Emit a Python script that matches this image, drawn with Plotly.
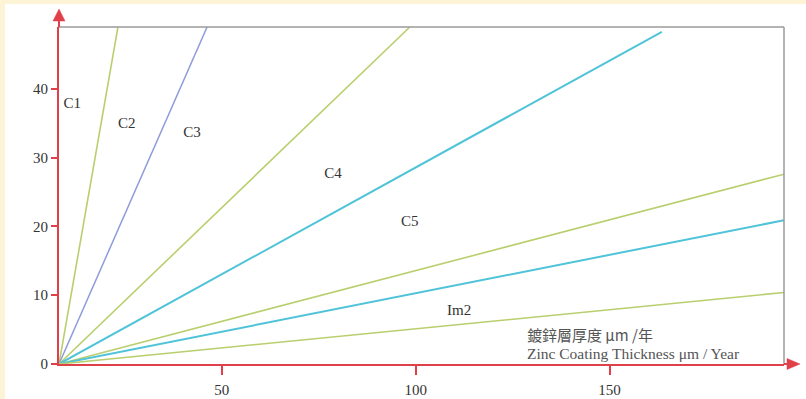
import plotly.graph_objects as go

# ---- data ----
origin = (8.0, 0.0)                     # common start of every line (axis corner)
line_names = ["C1", "C2", "C3", "C4", "C5", "CX", "Im2"]
end_x = [23.2, 46.2, 98.5, 163.5, 195.0, 195.0, 195.0]
end_y = [49.0, 49.0, 49.0, 48.3, 27.6, 20.9, 10.4]
line_colors = ["#b9cf6e", "#8f9bd9", "#b9cf6e", "#4fc3d8", "#b9cf6e", "#4fc3d8", "#b9cf6e"]
line_widths = [1.6, 1.5, 1.6, 2.0, 1.6, 2.0, 1.6]

label_text = ["C1", "C2", "C3", "C4", "C5", "Im2"]
label_x = [11.4, 25.5, 42.3, 78.7, 98.5, 111.2]
label_y = [37.8, 34.8, 33.5, 27.6, 20.6, 7.6]

x_ticks = [50, 100, 150]
y_ticks = [0, 10, 20, 30, 40]
x_range = [8.0, 195.0]
y_range = [0.0, 49.0]

title_cn = "鍍鋅層厚度 μm /年"
title_en = "Zinc Coating Thickness μm / Year"

# ---- layout geometry (pixels) ----
W, H = 806, 399
ML, MR, MT, MB = 59, 22, 27, 35
PW, PH = W - ML - MR, H - MT - MB


def px(xp):
    return (xp - ML) / PW


def py(yp):
    return (H - MB - yp) / PH


RED = "#e0404a"
SERIF = "Liberation Serif, Times New Roman, serif"

fig = go.Figure()
for i, n in enumerate(line_names):
    fig.add_trace(go.Scatter(
        x=[origin[0], end_x[i]], y=[origin[1], end_y[i]], mode="lines",
        line=dict(color=line_colors[i], width=line_widths[i]),
        name=n, showlegend=False, hoverinfo="skip", cliponaxis=True))

fig.add_trace(go.Scatter(
    x=label_x, y=label_y, mode="text", text=label_text,
    textfont=dict(family=SERIF, size=15, color="#333333"),
    showlegend=False, hoverinfo="skip"))

shapes = [
    dict(type="rect", xref="paper", yref="paper", x0=px(5), x1=px(812),
         y0=py(405), y1=py(4), fillcolor="white", line=dict(width=0), layer="below"),
    dict(type="line", xref="paper", yref="paper", x0=0, x1=1, y0=1, y1=1,
         line=dict(color="#9a9a9a", width=1.5)),
    dict(type="line", xref="paper", yref="paper", x0=1, x1=1, y0=0, y1=1,
         line=dict(color="#9a9a9a", width=1.5)),
    dict(type="line", xref="paper", yref="paper", x0=0, x1=0, y0=1, y1=py(18),
         line=dict(color=RED, width=2)),
    dict(type="line", xref="paper", yref="paper", x0=1, x1=px(790), y0=0, y1=0,
         line=dict(color=RED, width=2)),
    dict(type="path", xref="paper", yref="paper",
         path=f"M {px(59)} {py(9)} L {px(53)} {py(21)} L {px(65)} {py(21)} Z",
         fillcolor=RED, line=dict(color=RED, width=0.5)),
    dict(type="path", xref="paper", yref="paper",
         path=f"M {px(800)} {py(364)} L {px(787)} {py(358.5)} L {px(787)} {py(369.5)} Z",
         fillcolor=RED, line=dict(color=RED, width=0.5)),
]

annotations = [
    dict(xref="x", yref="y", x=128.5, y=4.3, text=title_cn, showarrow=False,
         xanchor="left", yanchor="middle", borderpad=0,
         font=dict(family="Noto Sans CJK TC", size=15, color="#555555")),
    dict(xref="x", yref="y", x=128.5, y=1.5, text=title_en, showarrow=False,
         xanchor="left", yanchor="middle", borderpad=0,
         font=dict(family=SERIF, size=15.5, color="#555555")),
]

fig.update_layout(
    template="none",
    width=W, height=H, autosize=False,
    margin=dict(l=ML, r=MR, t=MT, b=MB, pad=0, autoexpand=False),
    paper_bgcolor="#fdf3d5", plot_bgcolor="white",
    shapes=shapes, annotations=annotations,
    xaxis=dict(range=x_range, tickvals=x_ticks, ticktext=[str(v) for v in x_ticks],
               automargin=False,
               showgrid=False, zeroline=False, showline=True, linecolor=RED, linewidth=2,
               ticks="outside", ticklen=9, tickwidth=1.5, tickcolor=RED,
               ticklabelstandoff=2,
               tickfont=dict(family=SERIF, size=15, color="#333333")),
    yaxis=dict(range=y_range, tickvals=y_ticks, ticktext=[str(v) for v in y_ticks],
               automargin=False,
               showgrid=False, zeroline=False, showline=True, linecolor=RED, linewidth=2,
               ticks="outside", ticklen=6, tickwidth=1.5, tickcolor=RED,
               tickfont=dict(family=SERIF, size=15, color="#333333")),
)

post = ("var s=document.createElement('style');"
        "s.textContent='html,body{margin:0;padding:0;overflow:hidden;background:#ffffff;}';"
        "document.head.appendChild(s);")
fig.write_html("out.html", post_script=post, config={"displayModeBar": False})
